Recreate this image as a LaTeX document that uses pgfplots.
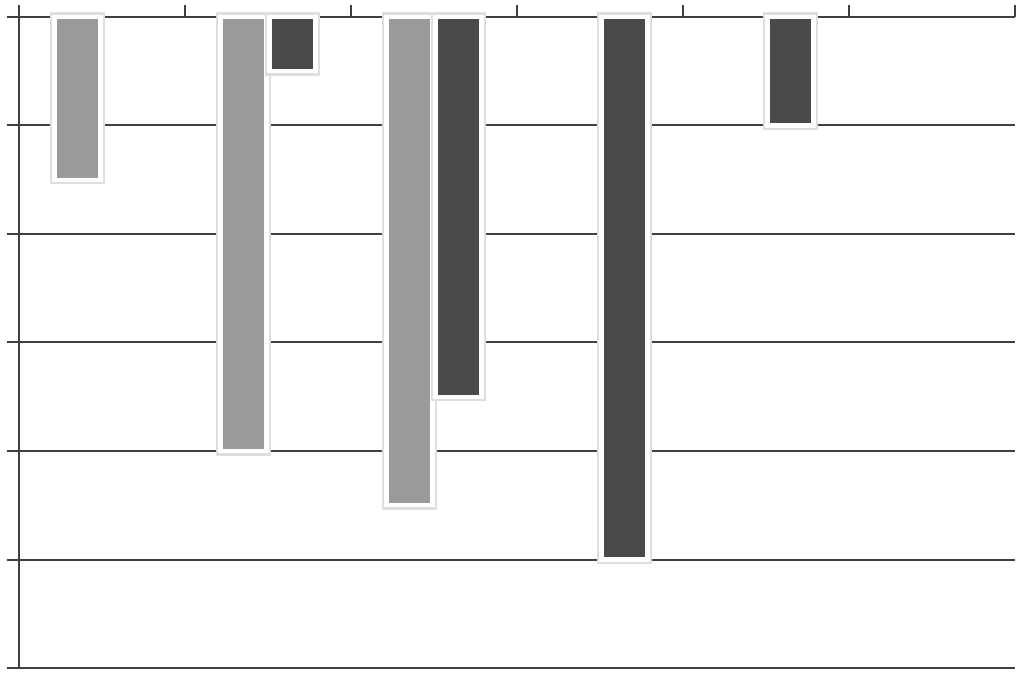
\documentclass[border=0pt]{standalone}
\usepackage{pgfplots}
\pgfplotsset{compat=1.18}
\definecolor{lightbar}{HTML}{9A9A9A}
\definecolor{darkbar}{HTML}{4A4A4A}
\definecolor{axisgray}{HTML}{404040}
\begin{document}
\begin{tikzpicture}
	\begin{axis}[
			set layers,
			scale only axis,
			width=498pt, height=325.5pt,
			clip=false,
			ybar=1.5pt, bar width=23pt,
			xmin=-0.5, xmax=5.5,
			ymin=-6, ymax=0,
			axis x line*=top,
			axis y line*=left,
			axis line style={-, draw=axisgray, line width=1pt},
			x axis line style={on layer=axis foreground},
			xtick={-0.5,0.5,...,5.5},
			ytick={-6,-5,...,0},
			xticklabels={}, yticklabels={},
			tick label style={overlay},
			xtick pos=right, ytick pos=left,
			tick align=outside,
			major tick length=5.8pt,
			tick style={draw=axisgray, line width=1pt},
			ymajorgrids,
			major grid style={draw=axisgray, line width=1pt},
			every axis plot/.append style={
					preaction={draw=black!13, line width=4.6pt},
					draw=white, line width=2.2pt},
		]
		\addplot[fill=lightbar] coordinates {
				(0,-1.5) (1,-4.0) (2,-4.5)};
		\addplot[fill=darkbar] coordinates {
				(1,-0.5) (2,-3.5) (3,-5.0) (4,-1.0)};
		\path ([shift={(-9.5pt,-5pt)}]rel axis cs:0,0)
			rectangle ([shift={(4.5pt,8.5pt)}]rel axis cs:1,1);
	\end{axis}
\end{tikzpicture}
\end{document}
